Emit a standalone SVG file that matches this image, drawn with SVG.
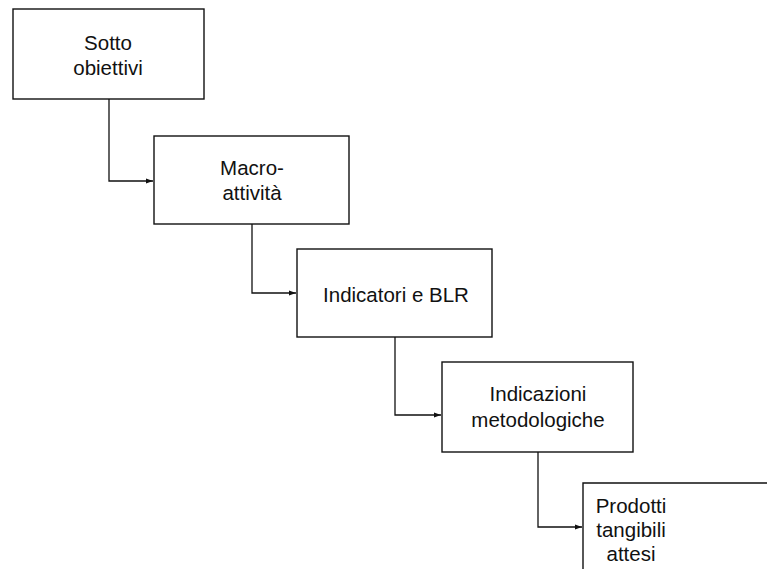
<svg xmlns="http://www.w3.org/2000/svg" width="767" height="569" viewBox="0 0 767 569">
<style>
.box{fill:#fff;stroke:#111;stroke-width:1.4}
.edge{fill:none;stroke:#111;stroke-width:1.3}
text{font-family:"Liberation Sans",Arial,sans-serif;font-size:20.5px;fill:#111;text-anchor:middle}
</style>
<defs>
<marker id="arr" markerWidth="8" markerHeight="6" refX="7" refY="3" orient="auto" markerUnits="userSpaceOnUse">
<path d="M0,0.5 L7,3 L0,5.5 Z" fill="#111"/>
</marker>
</defs>
<rect width="767" height="569" fill="#fff"/>
<g id="connectors">
<path class="edge" d="M109,99 V181 H153" marker-end="url(#arr)"/>
<path class="edge" d="M252,224 V293 H296" marker-end="url(#arr)"/>
<path class="edge" d="M395,337 V415 H441" marker-end="url(#arr)"/>
<path class="edge" d="M538,452 V527 H582" marker-end="url(#arr)"/>
</g>
<g id="n1">
<rect class="box" x="13" y="9" width="191" height="90"/>
<text x="108" y="50">Sotto</text>
<text x="108" y="75">obiettivi</text>
</g>
<g id="n2">
<rect class="box" x="154" y="136" width="195" height="88"/>
<text x="252" y="175">Macro-</text>
<text x="252" y="200">attività</text>
</g>
<g id="n3">
<rect class="box" x="297" y="249" width="195" height="88"/>
<text x="396" y="302">Indicatori e BLR</text>
</g>
<g id="n4">
<rect class="box" x="442" y="362" width="191" height="90"/>
<text x="538" y="401">Indicazioni</text>
<text x="538" y="427">metodologiche</text>
</g>
<g id="n5">
<path class="edge" d="M583,569 V483 H767" style="stroke-width:1.4"/>
<text x="631" y="513">Prodotti</text>
<text x="631" y="537">tangibili</text>
<text x="631" y="561">attesi</text>
</g>
</svg>
